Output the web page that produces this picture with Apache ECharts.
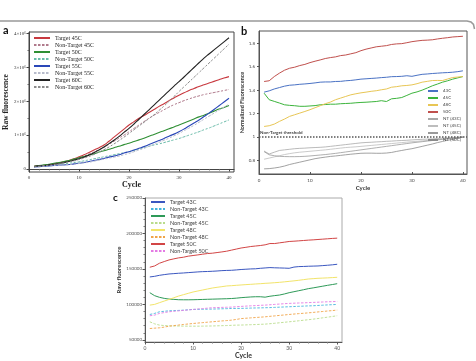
<!DOCTYPE html>
<html>
<head>
<meta charset="utf-8">
<script src="https://cdn.jsdelivr.net/npm/echarts@6/dist/echarts.min.js"></script>
<style>
  html, body { margin: 0; padding: 0; background: #fff; }
  #chart { width: 476px; height: 361px; }
</style>
</head>
<body>
<div id="chart"></div>
<script>
// cycles 1..40, shared by all three panels
const cycles = [1,2,3,4,5,6,7,8,9,10,11,12,13,14,15,16,17,18,19,20,21,22,23,24,25,26,27,28,29,30,31,32,33,34,35,36,37,38,39,40];
const cycleTicks = [0, 10, 20, 30, 40];

// panel a: raw fluorescence, millions
const aNames = ["Target 45C", "Non-Target 45C", "Target 50C", "Non-Target 50C", "Target 55C", "Non-Target 55C", "Target 60C", "Non-Target 60C"];
const aTarget45 = [0.08,0.09,0.11,0.13,0.15,0.18,0.21,0.25,0.30,0.36,0.42,0.49,0.56,0.63,0.71,0.82,0.94,1.06,1.18,1.30,1.40,1.50,1.58,1.67,1.76,1.85,1.93,2.02,2.10,2.18,2.25,2.32,2.38,2.44,2.49,2.54,2.59,2.64,2.69,2.73];
const aNonTarget45 = [0.07,0.09,0.10,0.12,0.14,0.17,0.20,0.24,0.28,0.33,0.38,0.44,0.50,0.57,0.64,0.73,0.82,0.91,1.00,1.10,1.20,1.30,1.40,1.50,1.59,1.67,1.75,1.83,1.90,1.96,2.02,2.07,2.12,2.16,2.20,2.23,2.26,2.29,2.32,2.35];
const aTarget50 = [0.08,0.10,0.12,0.14,0.17,0.19,0.22,0.25,0.29,0.33,0.37,0.41,0.45,0.50,0.54,0.58,0.63,0.67,0.72,0.76,0.81,0.86,0.91,0.97,1.02,1.08,1.13,1.19,1.24,1.30,1.36,1.42,1.48,1.54,1.59,1.65,1.71,1.77,1.82,1.88];
const aNonTarget50 = [0.07,0.08,0.10,0.11,0.12,0.14,0.15,0.17,0.19,0.21,0.24,0.27,0.30,0.33,0.36,0.39,0.42,0.45,0.48,0.51,0.55,0.59,0.63,0.67,0.71,0.74,0.78,0.82,0.86,0.90,0.95,1.00,1.05,1.10,1.16,1.21,1.27,1.33,1.39,1.45];
const aTarget55 = [0.06,0.07,0.08,0.09,0.10,0.11,0.12,0.13,0.15,0.17,0.19,0.22,0.25,0.28,0.31,0.35,0.38,0.42,0.47,0.51,0.56,0.61,0.66,0.72,0.78,0.84,0.90,0.97,1.03,1.10,1.18,1.27,1.36,1.45,1.55,1.65,1.76,1.87,1.98,2.09];
const aNonTarget55 = [0.06,0.07,0.08,0.09,0.10,0.11,0.12,0.13,0.14,0.16,0.18,0.20,0.23,0.26,0.29,0.32,0.35,0.38,0.42,0.46,0.51,0.56,0.61,0.67,0.73,0.79,0.85,0.91,0.98,1.05,1.13,1.21,1.29,1.38,1.47,1.56,1.65,1.74,1.83,1.92];
const aTarget60 = [0.07,0.09,0.10,0.12,0.14,0.16,0.19,0.22,0.26,0.30,0.35,0.41,0.48,0.56,0.65,0.75,0.85,0.96,1.08,1.20,1.33,1.47,1.61,1.75,1.89,2.03,2.17,2.31,2.45,2.58,2.72,2.86,3.00,3.14,3.28,3.40,3.52,3.64,3.76,3.88];
const aNonTarget60 = [0.07,0.08,0.10,0.11,0.13,0.15,0.18,0.21,0.24,0.28,0.32,0.37,0.43,0.50,0.57,0.65,0.74,0.84,0.94,1.05,1.16,1.27,1.38,1.49,1.60,1.73,1.86,2.00,2.14,2.29,2.43,2.57,2.71,2.85,2.99,3.13,3.27,3.41,3.55,3.69];
const aYTicks = [0, 1, 2, 3, 4];
const aYLabels = ["0", "1×10⁶", "2×10⁶", "3×10⁶", "4×10⁶"];

// panel b: normalized fluorescence
const bNames = ["43C", "45C", "48C", "50C", "NT (43C)", "NT (45C)", "NT (48C)", "NT (50C)"];
const b43 = [1.383,1.394,1.41,1.422,1.434,1.442,1.445,1.45,1.453,1.457,1.462,1.468,1.47,1.47,1.474,1.475,1.48,1.483,1.488,1.494,1.497,1.5,1.503,1.507,1.51,1.515,1.516,1.518,1.523,1.518,1.527,1.535,1.538,1.542,1.545,1.548,1.55,1.553,1.558,1.565];
const b45 = [1.374,1.318,1.304,1.29,1.275,1.27,1.267,1.262,1.262,1.265,1.268,1.275,1.277,1.28,1.28,1.284,1.286,1.288,1.292,1.295,1.297,1.3,1.303,1.31,1.303,1.326,1.33,1.337,1.355,1.374,1.385,1.4,1.418,1.437,1.452,1.468,1.48,1.494,1.505,1.516];
const b48 = [1.09,1.096,1.11,1.133,1.153,1.176,1.19,1.204,1.218,1.233,1.25,1.267,1.284,1.298,1.318,1.332,1.346,1.36,1.369,1.377,1.383,1.39,1.395,1.403,1.41,1.425,1.43,1.437,1.44,1.445,1.455,1.468,1.475,1.482,1.483,1.482,1.495,1.508,1.512,1.516];
const b50 = [1.474,1.48,1.516,1.545,1.57,1.587,1.596,1.61,1.62,1.635,1.647,1.658,1.67,1.678,1.684,1.695,1.70,1.71,1.72,1.737,1.75,1.76,1.77,1.775,1.78,1.79,1.795,1.797,1.805,1.814,1.82,1.825,1.827,1.83,1.837,1.843,1.848,1.854,1.857,1.86];
const bNT43 = [0.88,0.855,0.87,0.885,0.89,0.895,0.9,0.903,0.905,0.908,0.91,0.912,0.915,0.92,0.925,0.93,0.935,0.94,0.945,0.95,0.953,0.955,0.958,0.96,0.963,0.965,0.968,0.97,0.972,0.975,0.978,0.98,0.982,0.984,0.987,0.99,0.992,0.995,0.997,1.0];
const bNT45 = [0.81,0.82,0.83,0.84,0.85,0.858,0.865,0.87,0.874,0.878,0.882,0.886,0.89,0.895,0.9,0.905,0.91,0.913,0.916,0.92,0.924,0.928,0.932,0.936,0.94,0.944,0.948,0.952,0.956,0.96,0.963,0.967,0.97,0.974,0.978,0.982,0.986,0.99,0.995,1.0];
const bNT48 = [0.875,0.848,0.84,0.835,0.833,0.832,0.832,0.833,0.835,0.838,0.842,0.846,0.85,0.855,0.86,0.866,0.872,0.878,0.884,0.89,0.896,0.902,0.908,0.914,0.92,0.926,0.932,0.938,0.944,0.95,0.955,0.96,0.965,0.97,0.975,0.98,0.985,0.99,0.995,1.0];
const bNT50 = [0.728,0.73,0.735,0.742,0.752,0.765,0.775,0.785,0.795,0.805,0.815,0.822,0.828,0.834,0.838,0.843,0.848,0.853,0.857,0.861,0.862,0.862,0.861,0.861,0.863,0.868,0.877,0.885,0.893,0.9,0.91,0.92,0.93,0.94,0.952,0.962,0.972,0.98,0.99,0.998];
const bYTicks = [0.8, 1, 1.2, 1.4, 1.6, 1.8];
const bThreshold = 1;

// panel c: raw fluorescence, thousands
const cNames = ["Target 43C", "Non-Target 43C", "Target 45C", "Non-Target 45C", "Target 48C", "Non-Target 48C", "Target 50C", "Non-Target 50C"];
const cTarget43 = [138.7,139.6,141,142,142.9,143.4,143.9,144.3,144.8,145.3,145.8,146.2,146.4,146.7,147.1,147.6,147.9,148.1,148.6,149.2,149.6,150,150.2,150.9,151.4,151.9,151.6,151.4,151.2,150.9,152.6,153.3,153.5,153.8,154,154.2,154.7,155.2,155.8,156.6];
const cNonTarget43 = [85.8,87.3,89.6,90.3,91,91.3,91.5,91.9,92.4,92.9,93,93.1,93.3,93.4,93.6,93.8,94,94.3,94.3,94.4,94.6,94.8,95,95.1,95.3,95.5,95.8,96.1,96.4,96.7,97,97.3,97.6,97.9,98.1,98.5,98.9,99.3,99.6,100];
const cTarget45 = [116.5,112.3,110,108.5,107.5,107.1,106.6,106.5,106.5,106.6,106.8,107,107.2,107.4,107.6,107.8,108,108.3,108.8,109.5,110,110.5,110.8,110.8,110.2,111.5,112.4,113.2,114.7,116.5,117.9,119.3,120.7,122.2,123.3,124.5,125.7,126.9,128,129.2];
const cNonTarget45 = [75.5,72.6,70.8,70.2,69.8,69.6,69.5,69.4,69.3,69.3,69.3,69.4,69.5,69.6,69.8,70,70.2,70.5,70.8,70.9,71.1,71.4,71.6,71.9,72.2,72.8,73.4,74.1,74.8,75.5,76.2,76.9,77.7,78.4,79.2,80.1,81.1,82,83,84];
const cTarget48 = [99,100,102.4,104.7,107,109.4,111.8,113.7,115.6,117.5,118.9,120.3,121.7,123.1,124.1,125,126,126.4,126.9,127.4,127.9,128.3,128.8,129.2,129.7,130.1,130.6,131.1,131.8,132.5,133.2,134,134.9,135.8,136.3,136.8,137.1,137.4,137.8,138.2];
const cNonTarget48 = [66,66.5,67,68,69.3,70.1,70.9,71.7,72.4,73.1,73.7,74.3,74.9,75.5,76.1,76.7,77.2,77.8,78.8,80,80.5,81,81.5,82,82.5,83.2,83.8,84.5,85.1,85.8,86.4,87,87.5,88.1,88.7,89.4,90,90.7,91.3,92];
const cTarget50 = [152.4,154.2,158,160.4,162.7,164.2,165.6,166.5,168,168.9,169.8,170.8,171.7,172.2,173.1,174,175,176.5,178,179.5,180.5,181.6,182.3,183,184,185.8,185.8,186.8,187.7,188.7,189.1,189.6,190.1,190.6,191,191.5,192,192.5,193,193.4];
const cNonTarget50 = [84,84.9,87.3,88.5,89.6,90.3,90.9,91.5,92.2,92.9,93.5,94.1,94.7,95.3,95.5,95.8,96,96.2,96.7,97.2,97.6,98,98.3,98.7,99,99.5,100,100.5,101,101.4,101.7,102,102.2,102.5,102.8,103.1,103.4,103.7,103.9,104.2];
const cYTicks = [50, 100, 150, 200, 250];

const SERIF = "Liberation Serif";
const SANS = "Lato";

function line(name, values, color, dashed, idx, width) {
  return {
    name: name,
    type: "line",
    xAxisIndex: idx,
    yAxisIndex: idx,
    symbol: "none",
    smooth: idx === 0,
    silent: true,
    data: values.map((v, i) => [cycles[i], v]),
    itemStyle: { color: color },
    lineStyle: { color: color, width: width, type: dashed ? [2.5, 1.5] : "solid" },
  };
}

// panel c names get a trailing space so legend items don't clash with panel a
const cName = (n) => n + " ";

const series = [
  line(aNames[0], aTarget45, "#c8393f", false, 0, 1.1),
  line(aNames[1], aNonTarget45, "#b07a8c", true, 0, 1),
  line(aNames[2], aTarget50, "#2f8f34", false, 0, 1.1),
  line(aNames[3], aNonTarget50, "#6bbcaa", true, 0, 1),
  line(aNames[4], aTarget55, "#2a47b8", false, 0, 1.1),
  line(aNames[5], aNonTarget55, "#b8bccc", true, 0, 1),
  line(aNames[6], aTarget60, "#222222", false, 0, 1.1),
  line(aNames[7], aNonTarget60, "#8c8c8c", true, 0, 1),

  line(bNames[0], b43, "#4a72c4", false, 1, 1),
  line(bNames[1], b45, "#3cb43c", false, 1, 1),
  line(bNames[2], b48, "#e8c655", false, 1, 1),
  line(bNames[3], b50, "#c0504d", false, 1, 1),
  line(bNames[4], bNT43, "#a8a8a8", false, 1, 0.8),
  line(bNames[5], bNT45, "#bdbdbd", false, 1, 0.8),
  line(bNames[6], bNT48, "#9a9a9a", false, 1, 0.8),
  line(bNames[7], bNT50, "#8a8a8a", false, 1, 0.8),

  line(cName(cNames[0]), cTarget43, "#3b57c0", false, 2, 1),
  line(cName(cNames[1]), cNonTarget43, "#45b5dc", true, 2, 0.9),
  line(cName(cNames[2]), cTarget45, "#2e9a58", false, 2, 1),
  line(cName(cNames[3]), cNonTarget45, "#b9dc8c", true, 2, 0.9),
  line(cName(cNames[4]), cTarget48, "#f2e46a", false, 2, 1),
  line(cName(cNames[5]), cNonTarget48, "#f0a448", true, 2, 0.9),
  line(cName(cNames[6]), cTarget50, "#d24545", false, 2, 1),
  line(cName(cNames[7]), cNonTarget50, "#e47ae4", true, 2, 0.9),
];

// dotted non-target threshold on panel b
series[15].markLine = {
  silent: true,
  symbol: ["none", "none"],
  data: [{ yAxis: bThreshold }],
  lineStyle: { type: [1.5, 1.5], color: "#555", width: 1.5 },
  label: {
    show: true,
    position: "insideStartTop",
    formatter: "Non-Target threshold",
    fontFamily: SANS,
    fontSize: 4.5,
    fontWeight: "bold",
    color: "#444",
    distance: [1, 2],
  },
};

const chart = echarts.init(document.getElementById("chart"), null, { renderer: "canvas" });

// legend icons: line only, hide the default marker circle
const noMarker = { opacity: 0, borderWidth: 0 };

chart.setOption({
  animation: false,
  backgroundColor: "#fff",
  grid: [
    { left: 29, top: 32, width: 205, height: 140, show: true, borderColor: "#444", borderWidth: 1 },
    { left: 259, top: 31, width: 208, height: 143, show: true, borderColor: "#555", borderWidth: 1 },
    { left: 145, top: 198, width: 197, height: 144, show: true, borderColor: "#aaa", borderWidth: 1 },
  ],
  xAxis: [
    {
      gridIndex: 0, type: "value", min: 0, max: 41,
      name: "Cycle", nameLocation: "middle", nameGap: 7,
      nameTextStyle: { fontFamily: SERIF, fontSize: 8, fontWeight: "bold", color: "#222" },
      axisLine: { lineStyle: { color: "#444" } },
      axisTick: { length: 2.5, customValues: cycleTicks, lineStyle: { color: "#444" } },
      minorTick: { show: true, splitNumber: 5, length: 1.5, lineStyle: { color: "#666" } },
      axisLabel: { customValues: cycleTicks, margin: 3, fontFamily: SERIF, fontSize: 5, color: "#333" },
      splitLine: { show: false },
    },
    {
      gridIndex: 1, type: "value", min: 0, max: 40.8,
      name: "Cycle", nameLocation: "middle", nameGap: 11,
      nameTextStyle: { fontFamily: SANS, fontSize: 6, fontWeight: "bold", color: "#333" },
      axisLine: { lineStyle: { color: "#555" } },
      axisTick: { inside: true, length: 2, customValues: cycleTicks, lineStyle: { color: "#555" } },
      axisLabel: { customValues: cycleTicks, margin: 4, fontFamily: SANS, fontSize: 4.5, color: "#444" },
      splitLine: { show: false },
    },
    {
      gridIndex: 2, type: "value", min: 0, max: 41,
      name: "Cycle", nameLocation: "middle", nameGap: 10,
      nameTextStyle: { fontFamily: SANS, fontSize: 7, fontWeight: "bold", color: "#333" },
      axisLine: { lineStyle: { color: "#555" } },
      axisTick: { length: 2.5, customValues: cycleTicks, lineStyle: { color: "#555" } },
      minorTick: { show: true, splitNumber: 5, length: 1.5, lineStyle: { color: "#777" } },
      axisLabel: { customValues: cycleTicks, margin: 4, fontFamily: SANS, fontSize: 5, color: "#555" },
      splitLine: { show: false },
    },
  ],
  yAxis: [
    {
      gridIndex: 0, type: "value", min: -0.09, max: 4.05,
      name: "Raw fluorescence", nameLocation: "middle", nameGap: 15,
      nameTextStyle: { fontFamily: SERIF, fontSize: 7.5, fontWeight: "bold", color: "#222" },
      axisLine: { show: true, lineStyle: { color: "#444" } },
      axisTick: { show: true, length: 2.5, customValues: aYTicks, lineStyle: { color: "#444" } },
      minorTick: { show: true, splitNumber: 2, length: 1.5, lineStyle: { color: "#666" } },
      axisLabel: {
        customValues: aYTicks, margin: 3, fontFamily: SERIF, fontSize: 5, color: "#333",
        formatter: (v) => aYLabels[aYTicks.indexOf(v)],
      },
      splitLine: { show: false },
    },
    {
      gridIndex: 1, type: "value", min: 0.684, max: 1.905,
      name: "Normalized Fluorescence", nameLocation: "middle", nameGap: 10,
      nameTextStyle: { fontFamily: SANS, fontSize: 5.5, fontWeight: "bold", color: "#333" },
      axisLine: { show: true, lineStyle: { color: "#555" } },
      axisTick: { show: true, length: 2, customValues: bYTicks, lineStyle: { color: "#555" } },
      axisLabel: { customValues: bYTicks, margin: 4, fontFamily: SANS, fontSize: 4.5, color: "#444" },
      splitLine: { show: false },
    },
    {
      gridIndex: 2, type: "value", min: 47, max: 250,
      name: "Raw fluorescence", nameLocation: "middle", nameGap: 19,
      nameTextStyle: { fontFamily: SANS, fontSize: 6, fontWeight: "bold", color: "#333" },
      axisLine: { show: true, lineStyle: { color: "#555" } },
      axisTick: { show: true, length: 2.5, customValues: cYTicks, lineStyle: { color: "#555" } },
      minorTick: { show: true, splitNumber: 5, length: 1.5, lineStyle: { color: "#777" } },
      axisLabel: {
        customValues: cYTicks, margin: 3, fontFamily: SANS, fontSize: 4.5, color: "#555",
        formatter: (v) => String(Math.round(v * 1000)),
      },
      splitLine: { show: false },
    },
  ],
  legend: [
    {
      data: aNames, orient: "vertical", left: 33, top: 35,
      itemWidth: 16, itemHeight: 6, itemGap: 1, padding: 0, itemStyle: noMarker,
      textStyle: { fontFamily: SERIF, fontSize: 6, lineHeight: 6, color: "#222" },
      selectedMode: false,
    },
    {
      data: bNames, orient: "vertical", left: 427, top: 88,
      itemWidth: 10, itemHeight: 6, itemGap: 1, padding: 0, itemStyle: noMarker,
      textStyle: { fontFamily: SANS, fontSize: 4.5, lineHeight: 6, color: "#444" },
      selectedMode: false,
    },
    {
      data: cNames.map(cName), orient: "vertical", left: 150, top: 199,
      itemWidth: 14, itemHeight: 5.8, itemGap: 1, padding: 0, itemStyle: noMarker,
      textStyle: { fontFamily: SANS, fontSize: 5.5, lineHeight: 5.8, color: "#444" },
      selectedMode: false,
    },
  ],
  graphic: [
    {
      type: "polyline", silent: true,
      shape: { points: [[0, 21], [467, 21], [471, 22], [473.5, 24.5], [474.5, 29]] },
      style: { stroke: "#999", lineWidth: 1.5, fill: null },
    },
    { type: "text", x: 3, y: 25, style: { text: "a", font: "bold 11px " + SANS, fill: "#111" } },
    { type: "text", x: 241, y: 26, style: { text: "b", font: "bold 11px " + SANS, fill: "#111" } },
    { type: "text", x: 113, y: 193, style: { text: "c", font: "bold 10px " + SANS, fill: "#111" } },
  ],
  series: series,
});
</script>
</body>
</html>
